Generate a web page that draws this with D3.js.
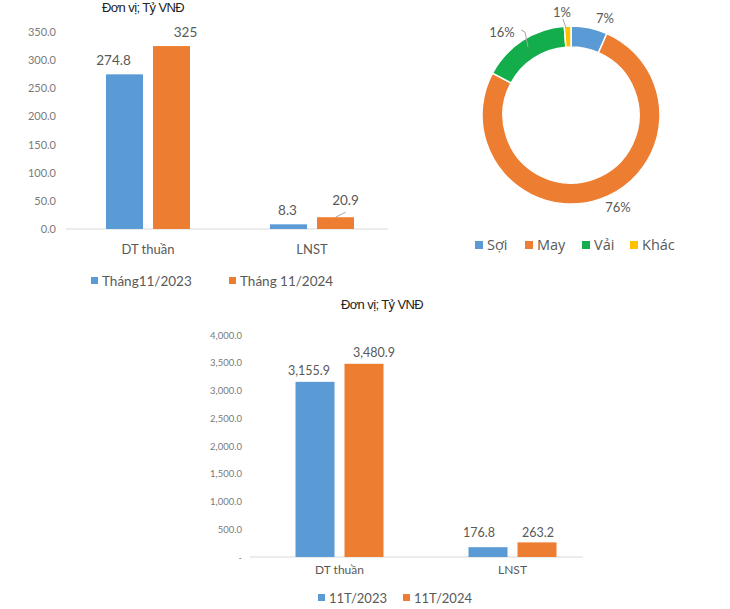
<!DOCTYPE html>
<html><head><meta charset="utf-8">
<script src="https://cdn.jsdelivr.net/npm/d3@7"></script>
<style>body{margin:0;background:#fff}svg{display:block}</style>
</head><body>
<svg id="c" width="730" height="609"></svg>
<script>
// ---- Data ----
const unitTitle = "Đơn vị; Tỷ VNĐ";
const cats1 = ["DT thuần", "LNST"];
const series1 = ["Tháng11/2023", "Tháng 11/2024"];
const values1_2023 = [274.8, 8.3];
const values1_2024 = [325, 20.9];
const labels1_2023 = ["274.8", "8.3"];
const labels1_2024 = ["325", "20.9"];
const ticks1 = [0, 50, 100, 150, 200, 250, 300, 350];

const donutCats = ["Sợi", "May", "Vải", "Khác"];
const donutValues = [6.6, 76.2, 16.0, 1.2];
const donutLabels = ["7%", "76%", "16%", "1%"];

const cats3 = ["DT thuần", "LNST"];
const series3 = ["11T/2023", "11T/2024"];
const values3_2023 = [3155.9, 176.8];
const values3_2024 = [3480.9, 263.2];
const ticks3 = [0, 500, 1000, 1500, 2000, 2500, 3000, 3500, 4000];

// ---- Styles ----
const BLUE = "#5B9BD5", ORANGE = "#ED7D31", GREEN = "#13AE4B", YELLOW = "#FFC000";
const TXT = "#595959", TICK = "#7a7a7a", AXIS = "#d9d9d9";
const FONT = "Lato, 'Open Sans', sans-serif";
const svg = d3.select("#c");

function barChart(o) {
  const g = svg.append("g");
  const y = d3.scaleLinear().domain(o.domain).range([o.y0, o.y1]);
  const x = d3.scaleBand().domain(o.cats).range(o.xr);
  // title
  g.append("text").attr("x", o.titleX).attr("y", o.titleY).attr("text-anchor", "middle")
    .attr("font-family", "'Liberation Sans', Arial, sans-serif").attr("font-size", 13)
    .attr("letter-spacing", "-0.6").attr("fill", "#222").text(unitTitle);
  // y axis labels
  const ax = d3.axisLeft(y).tickValues(o.ticks).tickSize(0).tickPadding(0).tickFormat(o.fmt);
  const ag = g.append("g").attr("transform", `translate(${o.yLabX},0)`).call(ax);
  ag.select(".domain").remove();
  ag.selectAll("text").attr("font-family", FONT).attr("font-size", o.tickFs).attr("fill", TICK);
  // baseline
  g.append("line").attr("x1", o.base[0]).attr("x2", o.base[1]).attr("y1", y(0)).attr("y2", y(0))
    .attr("stroke", AXIS).attr("stroke-width", 1.2);
  const inner = d3.scaleBand().domain([0, 1]).range([0, o.barW * 2 + o.gap]).paddingInner(o.gap / (o.barW + o.gap));
  const vals = [o.v0, o.v1], cols = [BLUE, ORANGE];
  vals.forEach((vs, si) => {
    g.selectAll(null).data(o.cats).enter().append("rect")
      .attr("x", d => x(d) + x.bandwidth() / 2 - (o.barW + o.gap / 2) + inner(si))
      .attr("width", inner.bandwidth())
      .attr("y", (d, i) => y(vs[i]))
      .attr("height", (d, i) => y(0) - y(vs[i]))
      .attr("fill", cols[si]);
    g.selectAll(null).data(o.cats).enter().append("text")
      .attr("x", (d, i) => x(d) + x.bandwidth() / 2 - (o.barW + o.gap / 2) + inner(si) + inner.bandwidth() / 2 + o.nudge[si][i][0])
      .attr("y", (d, i) => y(vs[i]) - 7 + o.nudge[si][i][1])
      .attr("text-anchor", "middle").attr("font-family", FONT).attr("font-size", o.lblFs).attr("fill", TXT)
      .text((d, i) => o.lbls[si][i]);
  });
  // category labels
  const xa = d3.axisBottom(x).tickSize(0).tickPadding(0);
  const xg = g.append("g").attr("transform", `translate(0,${o.catY})`).call(xa);
  xg.select(".domain").remove();
  xg.selectAll("text").attr("font-family", FONT).attr("font-size", o.catFs).attr("fill", TXT).attr("dy", "0.35em");
  // legend
  o.series.forEach((s, i) => {
    g.append("rect").attr("x", o.legX[i]).attr("y", o.legY - 4).attr("width", 7).attr("height", 7).attr("fill", cols[i]);
    g.append("text").attr("x", o.legX[i] + 11).attr("y", o.legY).attr("dy", "0.35em")
      .attr("font-family", FONT).attr("font-size", o.legFs).attr("fill", TXT).text(s);
  });
  return {x, y, g};
}

// Chart 1
const c1 = barChart({
  domain: [0, 350], y0: 229, y1: 32, cats: cats1, xr: [66, 394], base: [66, 388],
  titleX: 143, titleY: 12, ticks: ticks1, fmt: d3.format(".1f"), yLabX: 56, tickFs: 11,
  barW: 37, gap: 10, v0: values1_2023, v1: values1_2024, lbls: [labels1_2023, labels1_2024],
  nudge: [[[-11, -2], [-1, -2]], [[14, -2], [10, -5]]],
  lblFs: 13.5, catY: 249, catFs: 13, series: series1, legX: [91, 229], legY: 281, legFs: 13.5
});
// 20.9 leader line
{
  const bx = c1.x("LNST") + c1.x.bandwidth() / 2 + 5 + 37 / 2;
  const by = c1.y(values1_2024[1]);
  c1.g.append("line").attr("x1", bx).attr("y1", by).attr("x2", bx + 10).attr("y2", by - 5)
    .attr("stroke", "#a6a6a6").attr("stroke-width", 1);
}

// Chart 3
barChart({
  domain: [0, 4000], y0: 557, y1: 335, cats: cats3, xr: [253, 599], base: [250, 583],
  titleX: 382, titleY: 309, ticks: ticks3, fmt: d => d === 0 ? "-" : d3.format(",.1f")(d), yLabX: 242, tickFs: 9.5,
  barW: 39, gap: 10, v0: values3_2023, v1: values3_2024,
  lbls: [values3_2023.map(d3.format(",.1f")), values3_2024.map(d3.format(",.1f"))],
  nudge: [[[-6, 0], [-9, -3]], [[10, 0], [1, 1.5]]],
  lblFs: 12.5, catY: 570, catFs: 12, series: series3, legX: [318, 403], legY: 598, legFs: 13
});

// Donut
{
  const cx = 571, cy = 115, rO = 89, rI = 68;
  const g = svg.append("g").attr("transform", `translate(${cx},${cy})`);
  const pie = d3.pie().sort(null).value(d => d)(donutValues);
  const arc = d3.arc().innerRadius(rI).outerRadius(rO);
  const cols = [BLUE, ORANGE, GREEN, YELLOW];
  g.selectAll("path").data(pie).enter().append("path").attr("d", arc)
    .attr("fill", (d, i) => cols[i]).attr("stroke", "#fff").attr("stroke-width", 1.5);
  const lblPos = [[34, -97], [47, 92], [-69, -83], [-9, -103]];
  donutLabels.forEach((t, i) => {
    g.append("text").attr("x", lblPos[i][0]).attr("y", lblPos[i][1]).attr("dy", "0.35em")
      .attr("text-anchor", "middle").attr("font-family", FONT).attr("font-size", 13).attr("fill", TXT).text(t);
  });
  // leader lines
  g.append("polyline").attr("points", "-50,-85 -46,-83 -43,-68").attr("fill", "none").attr("stroke", "#a6a6a6");
  g.append("polyline").attr("points", "-8,-96 -5,-87").attr("fill", "none").attr("stroke", "#a6a6a6");
  // legend
  const legX = [475, 525, 582, 630];
  donutCats.forEach((c, i) => {
    svg.append("rect").attr("x", legX[i]).attr("y", 241).attr("width", 8).attr("height", 8).attr("fill", cols[i]);
    svg.append("text").attr("x", legX[i] + 12).attr("y", 245).attr("dy", "0.35em")
      .attr("font-family", "'Open Sans', 'Noto Sans', sans-serif").attr("font-size", 14.5).attr("fill", TXT).text(c);
  });
}
</script>
</body></html>
